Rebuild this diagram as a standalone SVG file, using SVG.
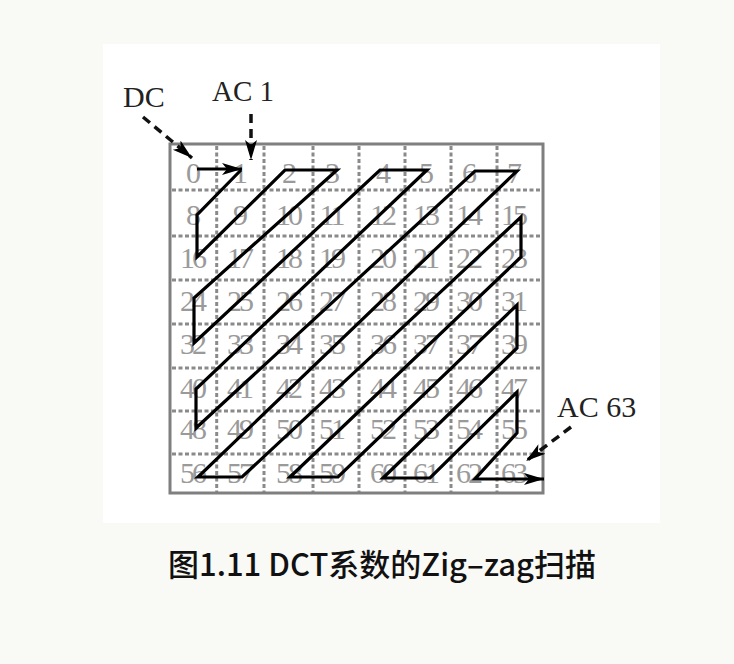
<svg xmlns="http://www.w3.org/2000/svg" width="734" height="664" viewBox="0 0 734 664">
<style>
.num{font-family:"Liberation Serif","Times New Roman",serif;font-size:30px;fill:#9a9a9a;text-anchor:middle;letter-spacing:-3px}
.lbl{font-family:"Liberation Serif","Times New Roman",serif;font-size:30px;fill:#222}
.grid{stroke:#8a8a8a;stroke-width:3;stroke-dasharray:4 2.5;fill:none}
.path{stroke:#000;stroke-width:3.2;fill:none;stroke-linejoin:miter}
.dash{stroke:#111;stroke-width:3.5;stroke-dasharray:9 6;fill:none}
.cap{font-family:"Noto Sans CJK SC","Noto Sans",sans-serif;font-size:31px;font-weight:500;fill:#111;text-anchor:middle}
</style>
<defs>
<marker id="ah" markerUnits="userSpaceOnUse" markerWidth="24" markerHeight="14" refX="20" refY="6" orient="auto" viewBox="0 0 24 12">
<path d="M0,0 L20,6 L0,12 L5,6 Z" fill="#000"/>
</marker>
</defs>
<rect x="0" y="0" width="734" height="664" fill="#f9f9f6"/>
<rect x="103" y="44" width="557" height="479" fill="#ffffff"/>
<g id="grid">
<path class="grid" d="M216.7,146 V492 M264,146 V492 M313,146 V492 M359,146 V492 M405,146 V492 M451,146 V492 M497,146 V492"/>
<path class="grid" d="M172,190 H542 M172,236 H542 M172,280 H542 M172,324 H542 M172,368 H542 M172,411 H542 M172,454 H542"/>
<rect x="170" y="144" width="373" height="349" fill="none" stroke="#7f7f7f" stroke-width="3"/>
</g>
<g id="numbers">
<text class="num" x="192" y="183">0</text><text class="num" x="239" y="183">1</text><text class="num" x="288" y="183">2</text><text class="num" x="331" y="183">3</text><text class="num" x="382" y="183">4</text><text class="num" x="425" y="183">5</text><text class="num" x="468" y="183">6</text><text class="num" x="513" y="183">7</text>
<text class="num" x="192" y="225">8</text><text class="num" x="239" y="225">9</text><text class="num" x="288" y="225">10</text><text class="num" x="331" y="225">11</text><text class="num" x="382" y="225">12</text><text class="num" x="425" y="225">13</text><text class="num" x="468" y="225">14</text><text class="num" x="513" y="225">15</text>
<text class="num" x="192" y="268">16</text><text class="num" x="239" y="268">17</text><text class="num" x="288" y="268">18</text><text class="num" x="331" y="268">19</text><text class="num" x="382" y="268">20</text><text class="num" x="425" y="268">21</text><text class="num" x="468" y="268">22</text><text class="num" x="513" y="268">23</text>
<text class="num" x="192" y="311">24</text><text class="num" x="239" y="311">25</text><text class="num" x="288" y="311">26</text><text class="num" x="331" y="311">27</text><text class="num" x="382" y="311">28</text><text class="num" x="425" y="311">29</text><text class="num" x="468" y="311">30</text><text class="num" x="513" y="311">31</text>
<text class="num" x="192" y="354">32</text><text class="num" x="239" y="354">33</text><text class="num" x="288" y="354">34</text><text class="num" x="331" y="354">35</text><text class="num" x="382" y="354">36</text><text class="num" x="425" y="354">37</text><text class="num" x="468" y="354">37</text><text class="num" x="513" y="354">39</text>
<text class="num" x="192" y="398">40</text><text class="num" x="239" y="398">41</text><text class="num" x="288" y="398">42</text><text class="num" x="331" y="398">43</text><text class="num" x="382" y="398">44</text><text class="num" x="425" y="398">45</text><text class="num" x="468" y="398">46</text><text class="num" x="513" y="398">47</text>
<text class="num" x="192" y="439">48</text><text class="num" x="239" y="439">49</text><text class="num" x="288" y="439">50</text><text class="num" x="331" y="439">51</text><text class="num" x="382" y="439">52</text><text class="num" x="425" y="439">53</text><text class="num" x="468" y="439">54</text><text class="num" x="513" y="439">55</text>
<text class="num" x="192" y="483">56</text><text class="num" x="239" y="483">57</text><text class="num" x="288" y="483">58</text><text class="num" x="331" y="483">59</text><text class="num" x="382" y="483">60</text><text class="num" x="425" y="483">61</text><text class="num" x="468" y="483">62</text><text class="num" x="513" y="483">63</text>
</g>
<g id="connectors">
<line class="path" x1="197" y1="169" x2="242" y2="169" marker-end="url(#ah)"/>
<polyline class="path" points="241,170 197,215 197,257 285,170 337,170 194,298 194,343 380,170 427,170 196,389 196,428 475,171 517,171 198,477 242,477 521,217 521,257 290,477 338,477 517,305 517,348 383,478 430,478 517,392 517,433 475,479 544,479" marker-end="url(#ah)"/>
<line class="dash" x1="143" y1="117" x2="192" y2="158" marker-end="url(#ah)"/>
<line class="dash" x1="251" y1="114" x2="251" y2="160" marker-end="url(#ah)"/>
<line class="dash" x1="571" y1="427" x2="526" y2="461" marker-end="url(#ah)"/>
</g>
<g id="labels">
<text class="lbl" x="123" y="107">DC</text>
<text class="lbl" x="212" y="101" style="font-size:29px">AC 1</text>
<text class="lbl" x="557" y="417">AC 63</text>
</g>
<text class="cap" x="382" y="576">图1.11 DCT系数的Zig–zag扫描</text>
</svg>
